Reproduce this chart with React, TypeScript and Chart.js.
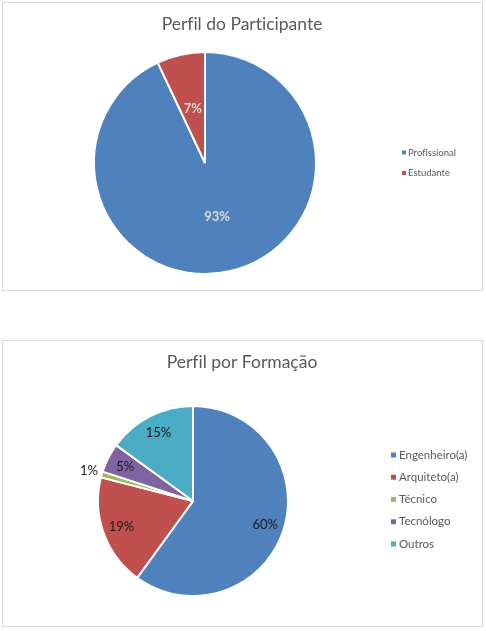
import React, { useEffect, useRef } from "react";
import { Chart, registerables } from "chart.js";

Chart.register(...registerables);

const chart1Title = "Perfil do Participante";
const chart1Labels = ["Profissional", "Estudante"];
const chart1Values = [93, 7];
const chart1Colors = ["#4F81BD", "#C0504D"];

const chart2Title = "Perfil por Formação";
const chart2Labels = ["Engenheiro(a)", "Arquiteto(a)", "Técnico", "Tecnólogo", "Outros"];
const chart2Values = [60, 19, 1, 5, 15];
const chart2Colors = ["#4F81BD", "#C0504D", "#9BBB59", "#8064A2", "#4BACC6"];

const FONT = "Lato, 'Open Sans', sans-serif";

type Cfg = {
  title: string;
  labels: string[];
  values: number[];
  colors: string[];
  width: number;
  height: number;
  top: number;
  padding: { left: number; top: number; right: number; bottom: number };
  radius: number;
  titleX: number;
  titleY: number;
  titleSize: number;
  labelFont: string;
  labelColor: string;
  inFactor: number;
  outFactor: number;
  legendSquareX: number;
  legendSquareSize: number;
  legendTextX: number;
  legendY0: number;
  legendStep: number;
  legendFont: string;
};

function makeOverlay(cfg: Cfg) {
  return {
    id: "overlay",
    afterDraw(chart: any) {
      const ctx = chart.ctx as CanvasRenderingContext2D;
      const meta = chart.getDatasetMeta(0);
      const total = cfg.values.reduce((a, b) => a + b, 0);
      ctx.save();
      try {
        (ctx as any).textRendering = "optimizeSpeed";
      } catch (e) {}
      // title
      ctx.font = `${cfg.titleSize}px ${FONT}`;
      ctx.fillStyle = "#595959";
      ctx.textAlign = "center";
      ctx.textBaseline = "middle";
      ctx.fillText(cfg.title, cfg.titleX, cfg.titleY);
      // data labels
      ctx.font = cfg.labelFont;
      meta.data.forEach((arc: any, i: number) => {
        const p = arc.getProps(["x", "y", "startAngle", "endAngle", "outerRadius"], true);
        const mid = (p.startAngle + p.endAngle) / 2;
        const pct = Math.round((cfg.values[i] / total) * 100);
        const outside = pct < 3;
        const f = outside ? cfg.outFactor : cfg.inFactor;
        const lx = p.x + Math.cos(mid) * p.outerRadius * f;
        const ly = p.y + Math.sin(mid) * p.outerRadius * f;
        ctx.fillStyle = outside ? "#1a1a1a" : cfg.labelColor;
        ctx.textAlign = "center";
        ctx.fillText(pct + "%", lx, ly);
      });
      // legend
      ctx.font = cfg.legendFont;
      ctx.textAlign = "left";
      cfg.labels.forEach((lab, i) => {
        const y = cfg.legendY0 + i * cfg.legendStep;
        ctx.fillStyle = cfg.colors[i];
        const s = cfg.legendSquareSize;
        ctx.fillRect(cfg.legendSquareX, y - s / 2, s, s);
        ctx.fillStyle = "#595959";
        ctx.fillText(lab, cfg.legendTextX, y);
      });
      ctx.restore();
    },
  };
}

function PieBox({ cfg }: { cfg: Cfg }) {
  const ref = useRef<HTMLCanvasElement | null>(null);
  useEffect(() => {
    if (!ref.current) return;
    const chart = new Chart(ref.current, {
      type: "pie",
      data: {
        labels: cfg.labels,
        datasets: [
          {
            data: cfg.values,
            backgroundColor: cfg.colors,
            borderColor: "#ffffff",
            borderWidth: 2,
            hoverOffset: 0,
          },
        ],
      },
      options: {
        responsive: false,
        animation: false,
        radius: cfg.radius,
        layout: { padding: cfg.padding },
        plugins: {
          legend: { display: false },
          title: { display: false },
          tooltip: { enabled: false },
        },
        events: [],
      } as any,
      plugins: [makeOverlay(cfg)],
    });
    return () => chart.destroy();
  }, [cfg]);
  return (
    <canvas
      ref={ref}
      width={cfg.width}
      height={cfg.height}
      style={{ position: "absolute", left: 0, top: cfg.top, width: cfg.width, height: cfg.height }}
    />
  );
}

const cfg1: Cfg = {
  title: chart1Title,
  labels: chart1Labels,
  values: chart1Values,
  colors: chart1Colors,
  width: 486,
  height: 300,
  top: 0,
  padding: { left: 94, top: 52, right: 170, bottom: 26 },
  radius: 111,
  titleX: 242,
  titleY: 24,
  titleSize: 17.5,
  labelFont: `bold 13px ${FONT}`,
  labelColor: "#d9d9d9",
  inFactor: 0.5,
  outFactor: 1.15,
  legendSquareX: 402,
  legendSquareSize: 4,
  legendTextX: 408,
  legendY0: 152.5,
  legendStep: 20.5,
  legendFont: `9.5px ${FONT}`,
};

const cfg2: Cfg = {
  title: chart2Title,
  labels: chart2Labels,
  values: chart2Values,
  colors: chart2Colors,
  width: 486,
  height: 296,
  top: 335,
  padding: { left: 98, top: 71, right: 198, bottom: 35 },
  radius: 95,
  titleX: 242,
  titleY: 27,
  titleSize: 17.5,
  labelFont: `13px ${FONT}`,
  labelColor: "#1a1a1a",
  inFactor: 0.8,
  outFactor: 1.14,
  legendSquareX: 391,
  legendSquareSize: 5,
  legendTextX: 399,
  legendY0: 120,
  legendStep: 22.25,
  legendFont: `11.5px ${FONT}`,
};

export default function App() {
  return (
    <div style={{ position: "fixed", left: 0, top: 0, width: 486, height: 631, background: "#fff", overflow: "hidden" }}>
      <div style={{ position: "absolute", left: 2, top: 2, width: 481, height: 289, border: "1px solid #d9d9d9", boxSizing: "border-box" }} />
      <div style={{ position: "absolute", left: 2, top: 340, width: 481, height: 287, border: "1px solid #d9d9d9", boxSizing: "border-box" }} />
      <PieBox cfg={cfg1} />
      <PieBox cfg={cfg2} />
    </div>
  );
}
